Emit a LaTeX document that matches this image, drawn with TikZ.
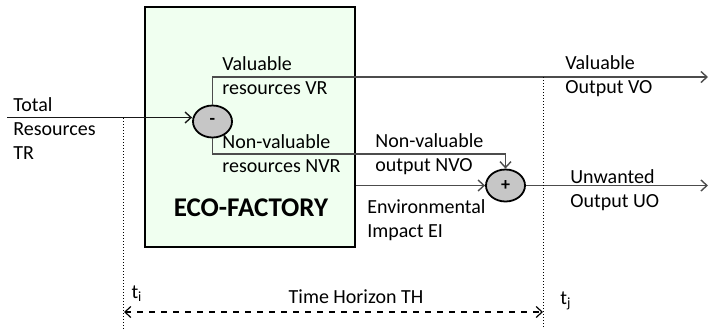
\documentclass[tikz,border=0pt]{standalone}
\usepackage{fontspec}
\setmainfont{Carlito}
\usetikzlibrary{arrows.meta,shapes.geometric}
\begin{document}
\begin{tikzpicture}[x=0.5pt,y=-0.5pt,font=\fontsize{10}{12}\selectfont,
	factory/.style={draw,line width=1pt,fill=green!6,minimum width=105pt,minimum height=120pt},
	sumnode/.style={ellipse,draw,line width=0.9pt,fill=gray!45,inner sep=0pt,minimum width=19.5pt,minimum height=16pt,font=\fontsize{9}{10}\bfseries},
	flow/.style={line width=0.7pt,black!70,-{Straight Barb[length=3pt,width=5.5pt]}},
	lbl/.style={anchor=west,align=left,inner sep=0pt}]
	\useasboundingbox (0,0) rectangle (709,329);
%	\draw[gray!20] (0,0) grid[step=50] (709,329);
	\node[factory] (box) at (250,127) {};
	\node[font=\fontsize{13.5}{16}\selectfont\bfseries] (eco) at (251,208) {ECO-FACTORY};
	\node[sumnode] (minus) at (212.5,121.5) {-};
	\node[sumnode] (plus) at (505.5,185.5) {+};
	\coordinate (trstart) at (7,117.5);
	\coordinate (vrend) at (708,77);
	\coordinate (nvo) at (505.5,154);
	\coordinate (uoend) at (708,185.5);
	\coordinate (ti) at (123,118);
	\coordinate (tj) at (543,77);
	% flows
	\draw[flow,black!90] (trstart) -- (minus.west |- trstart);
	\draw[flow] (minus.north) |- (vrend);
	\draw[flow] (minus.south) |- (nvo) -- (plus.north);
	\draw[flow] (box.east |- plus) -- (plus.west);
	\draw[flow] (plus.east) -- (uoend);
	% time horizon
	\draw[densely dotted,line width=0.5pt] (ti) -- (ti |- 0,329) (tj) -- (tj |- 0,329);
	\draw[dashed,line width=0.6pt,{Straight Barb[length=3pt,width=5.5pt]}-{Straight Barb[length=3pt,width=5.5pt]}] (124,312) -- (543,312);
	\path (13,129)node[lbl](trtext){Total\\Resources\\TR}
	(222,76)node[lbl](vrtext){Valuable\\resources VR}
	(222,154)node[lbl](nvrtext){Non-valuable\\resources NVR}
	(375,154)node[lbl](nvotext){Non-valuable\\output NVO}
	(565,76)node[lbl](votext){Valuable\\Output VO}
	(570,190)node[lbl](uotext){Unwanted\\Output UO}
	(367,220)node[lbl](eitext){Environmental\\Impact EI}
	(356,297)node(thtext){Time Horizon TH}
	(137,294)node(titext){t\textsubscript{i}}
	(566,301)node(tjtext){t\textsubscript{j}};
\end{tikzpicture}
\end{document}
